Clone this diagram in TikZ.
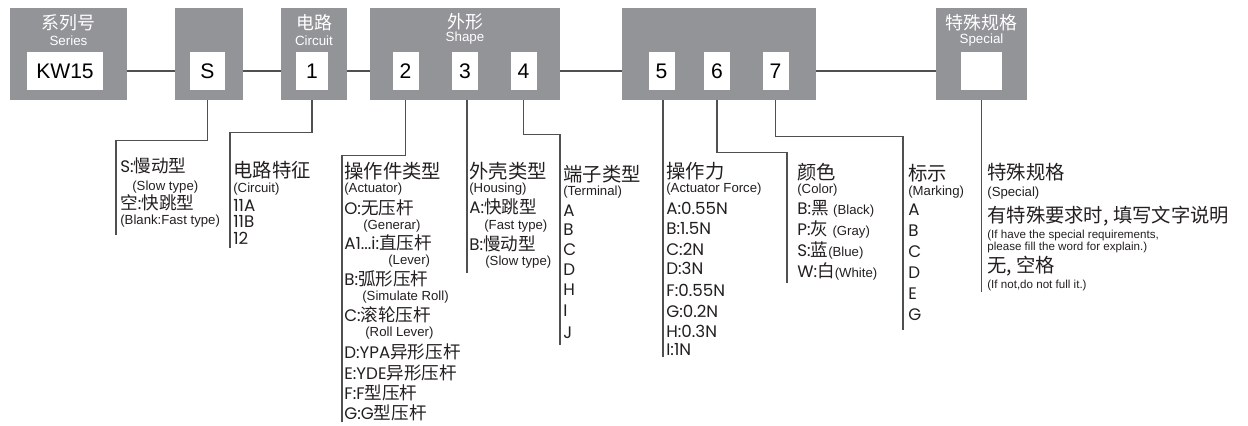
\documentclass[tikz,border=0pt]{standalone}
\usepackage{fontspec}
\setmainfont{Liberation Sans}
\newfontfamily\zh{Noto Sans CJK SC}
\newfontfamily\geo{Poppins}
\usetikzlibrary{backgrounds}
\definecolor{boxgray}{RGB}{147,148,152}
\definecolor{leadgray}{RGB}{80,80,80}
\definecolor{ink}{RGB}{35,31,32}
\newcommand\hz[1]{{\zh\fontsize{10}{10}\selectfont #1}}
\newcommand\sm[1]{{\normalfont\fontsize{7.5}{8}\selectfont #1}}
\tikzset{
  grp/.style={fill=boxgray, inner sep=0pt, minimum height=1.84cm},
  val/.style={fill=white, inner sep=0pt, minimum height=0.76cm, minimum width=0.52cm, font=\fontsize{12}{12}\selectfont},
  hdzh/.style={text=white, inner sep=0pt, font=\zh\fontsize{10.2}{10}\selectfont},
  hden/.style={text=white, inner sep=0pt, font=\fontsize{7.6}{8}\selectfont},
  lead/.style={draw=leadgray, line width=0.75pt},
  zhl/.style={anchor=west, inner sep=0pt, text=ink, font=\zh\fontsize{11}{11}\selectfont},
  enl/.style={anchor=west, inner sep=0pt, text=ink, font=\fontsize{7.5}{8}\selectfont},
  tnl/.style={anchor=west, inner sep=0pt, text=ink, font=\fontsize{6.6}{7}\selectfont},
  itl/.style={anchor=west, inner sep=0pt, text=ink, font=\geo\fontsize{9.5}{10}\selectfont},
}
\begin{document}
\begin{tikzpicture}[x=0.02cm, y=-0.02cm]
	\useasboundingbox (0,0) rectangle (1248,426);
	
	%gray boxes
	\node[grp, minimum width=2.34cm] (series) at (68.5,54){};
	\node[grp, minimum width=1.36cm] (sgray) at (209,54){};
	\node[grp, minimum width=1.32cm] (cgray) at (314,54){};
	\node[grp, minimum width=3.8cm] (shgray) at (465,54){};
	\node[grp, minimum width=3.88cm] (fgray) at (719,54){};
	\node[grp, minimum width=1.82cm] (spgray) at (981.5,54){};
	
	%headers
	\node[hdzh] (series-zh) at (68.5,23){系列号};
	\node[hden] (series-en) at (68.5,41){Series};
	\node[hdzh] (circ-zh) at (314,23){电路};
	\node[hden] (circ-en) at (314,41){Circuit};
	\node[hdzh] (shape-zh) at (465,22){外形};
	\node[hden] (shape-en) at (465,38){Shape};
	\node[hdzh] (spec-zh) at (981.5,23){特殊规格};
	\node[hden] (spec-en) at (981.5,40){Special};
	
	%value boxes
	\node[val, minimum width=1.52cm] (kw) at (65,71){KW15};
	\node[val, minimum width=0.7cm] (s) at (207.5,71){S};
	\node[val, minimum width=0.64cm] (c1) at (312,71){1};
	\node[val] (v2) at (405.5,71){2};
	\node[val] (v3) at (465,71){3};
	\node[val] (v4) at (523.5,71){4};
	\node[val] (v5) at (661.5,71){5};
	\node[val] (v6) at (717,71){6};
	\node[val] (v7) at (775.5,71){7};
	\node[val, minimum width=0.82cm] (sp) at (981.5,71){};
	
	%main line
	\begin{scope}[on background layer]
		\draw[lead] (kw) -- (s) -- (c1) -- (v2) -- (v3) -- (v4) -- (v5) -- (v6) -- (v7) -- (sp);
	\end{scope}
	
	%lead ends
	\coordinate (sEnd) at (116,235);
	\coordinate (cEnd) at (230,248);
	\coordinate (aEnd) at (342,422);
	\coordinate (hEnd) at (467,273);
	\coordinate (tEnd) at (560,345);
	\coordinate (fEnd) at (663,357);
	\coordinate (colEnd) at (787,283);
	\coordinate (mEnd) at (903,330);
	\coordinate (spEnd) at (981.5,292);
	
	%leads
	\draw[lead] (s |- sgray.south) -- ++(0,40) -| (sEnd);
	\draw[lead] (c1 |- cgray.south) -- ++(0,32) -| (cEnd);
	\draw[lead] (v2 |- shgray.south) -- ++(0,55) -| (aEnd);
	\draw[lead] (hEnd |- shgray.south) -- (hEnd);
	\draw[lead] (v4 |- shgray.south) -- ++(0,34) -| (tEnd);
	\draw[lead] (fEnd |- fgray.south) -- (fEnd);
	\draw[lead] (v6 |- fgray.south) -- ++(0,52) -| (colEnd);
	\draw[lead] (v7 |- fgray.south) -- ++(0,36) -| (mEnd);
	\draw[lead] (sp |- spgray.south) -- (spEnd);
	
	%series type
	\foreach \st/\x/\y/\t [count=\i] in {itl/120/166/{S:\hz{慢动型}}, enl/132/187/(Slow type),
		itl/120/203/{\hz{空}:\hz{快跳型}}, enl/120/221/(Blank:Fast type)}
		\node[\st] (styp\i) at (\x,\y){\t};
	
	%circuit
	\foreach \st/\y/\t [count=\i] in {zhl/170/电路特征, enl/189/(Circuit), itl/205/11A, itl/221/11B, itl/238/12}
		\node[\st] (circ\i) at (233,\y){\t};
	
	%actuator
	\foreach \st/\x/\y/\t [count=\i] in {zhl/344/171/操作件类型, enl/344/189/(Actuator),
		itl/344/208/{O:\hz{无压杆}}, enl/363/226/(Generar),
		itl/344/243/{A1...i:\hz{直压杆}}, enl/388/261/(Lever),
		itl/344/279/{B:\hz{弧形压杆}}, enl/362/297/(Simulate Roll),
		itl/344/315/{C:\hz{滚轮压杆}}, enl/365/333/(Roll Lever),
		itl/344/352/{D:YPA\hz{异形压杆}}, itl/344/373/{E:YDE\hz{异形压杆}},
		itl/344/393/{F:F\hz{型压杆}}, itl/344/413/{G:G\hz{型压杆}}}
		\node[\st] (act\i) at (\x,\y){\t};
	
	%housing
	\foreach \st/\x/\y/\t [count=\i] in {zhl/469/171/外壳类型, enl/469/189/(Housing),
		itl/469/207/{A:\hz{快跳型}}, enl/484/226/(Fast type),
		itl/469/244/{B:\hz{慢动型}}, enl/485/262/(Slow type)}
		\node[\st] (hous\i) at (\x,\y){\t};
	
	%terminal
	\foreach \st/\y/\t [count=\i] in {zhl/174/端子类型, enl/192/(Terminal), itl/211/A, itl/230/B,
		itl/250/C, itl/270/D, itl/290/H, itl/311/I, itl/333/J}
		\node[\st] (term\i) at (563,\y){\t};
	
	%force
	\foreach \st/\y/\t [count=\i] in {zhl/171/操作力, enl/189/(Actuator Force), itl/208/A:0.55N,
		itl/229/B:1.5N, itl/249/C:2N, itl/268/D:3N, itl/290/F:0.55N, itl/311/G:0.2N,
		itl/331/H:0.3N, itl/350/I:1N}
		\node[\st] (force\i) at (666,\y){\t};
	
	%color
	\foreach \st/\y/\t [count=\i] in {zhl/172/颜色, enl/190/(Color),
		itl/209/{B:\hz{黑} \sm{(Black)}}, itl/229/{P:\hz{灰} \sm{(Gray)}},
		itl/250/{S:\hz{蓝}\sm{(Blue)}}, itl/271/{W:\hz{白}\sm{(White)}}}
		\node[\st] (col\i) at (797,\y){\t};
	
	%marking
	\foreach \st/\y/\t [count=\i] in {zhl/173/标示, enl/192/(Marking), itl/210/A, itl/231/B,
		itl/252/C, itl/273/D, itl/294/E, itl/315/G}
		\node[\st] (mark\i) at (908,\y){\t};
	
	%special
	\foreach \st/\y/\t [count=\i] in {zhl/172/特殊规格, enl/193/(Special),
		zhl/216/{有特殊要求时, 填写文字说明}, tnl/235/{(If have the special requirements,},
		tnl/247/{please fill the word for explain.)}, zhl/266/{无, 空格}, tnl/285/{(If not,do not full it.)}}
		\node[\st] (spec\i) at (987,\y){\t};

\end{tikzpicture}
\end{document}
